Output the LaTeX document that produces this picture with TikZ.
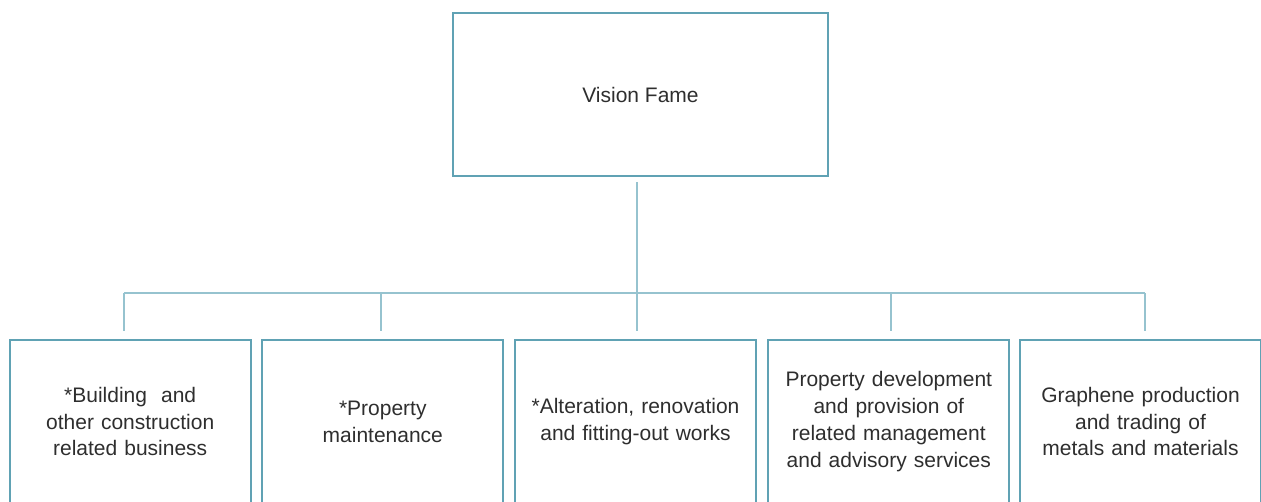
\documentclass[tikz,border=0pt]{standalone}
\usepackage{fontspec}
\setmainfont{Liberation Sans}
\definecolor{boxline}{RGB}{96,162,180}
\definecolor{connline}{RGB}{150,195,207}
\newcommand{\lift}{\par\vspace{7pt}}
\begin{document}
\begin{tikzpicture}[x=1pt,y=-1pt,
  topbox/.style={draw=boxline,line width=2.2pt,minimum width=375pt,minimum height=163pt,inner sep=0pt,font=\fontsize{21}{27}\selectfont,text=black!82},
  unitbox/.style={draw=boxline,line width=2.2pt,minimum width=241pt,minimum height=170pt,inner sep=0pt,text width=236pt,align=center,font=\fontsize{21}{26.8}\selectfont,text=black!82},
  conn/.style={draw=connline,line width=2.2pt}]
\useasboundingbox (0,0) rectangle (1261,501);
\node[topbox] (top) at (640.5,94.5) {Vision Fame};
\node[unitbox] (u1) at (130.2,425) {*Building\ \ and\\other construction\\related business\lift};
\node[unitbox] (u2) at (382.8,425) {*Property\\maintenance\lift};
\node[unitbox] (u3) at (635.5,425) {*Alteration, renovation\\and fitting-out works\lift};
\node[unitbox] (u4) at (888.8,425) {Property development\\and provision of\\related management\\and advisory services\lift};
\node[unitbox] (u5) at (1140.5,425) {Graphene production\\and trading of\\metals and materials\lift};
\coordinate (v1) at (637,182);
\coordinate (v2) at (637,331);
\coordinate (h1) at (124,293);
\coordinate (h5) at (1145,293);
\foreach \i/\x in {1/124,2/381,3/637,4/891,5/1145}{
  \coordinate (d\i) at (\x,293);
  \coordinate (e\i) at (\x,331);
}
\draw[conn] (v1) -- (v2);
\draw[conn] (h1) -- (h5);
\foreach \i in {1,2,4,5}{
  \draw[conn] (d\i) -- (e\i);
}
\end{tikzpicture}
\end{document}
